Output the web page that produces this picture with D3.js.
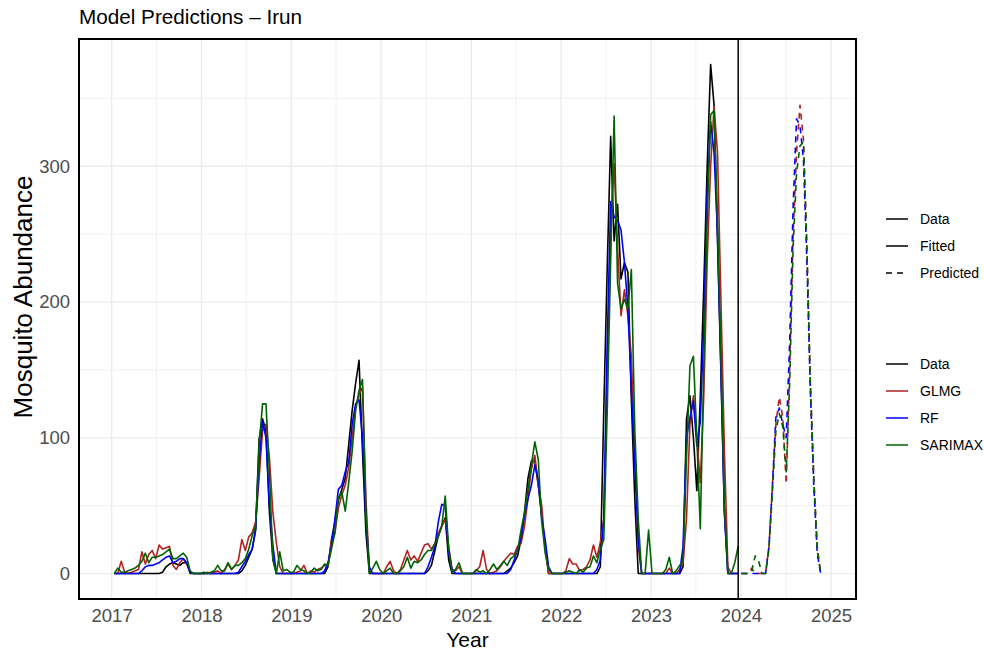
<!DOCTYPE html>
<html>
<head>
<meta charset="utf-8">
<script src="https://cdn.jsdelivr.net/npm/d3@7"></script>
<style>
  body { margin: 0; background: #fff; }
  svg { display: block; font-family: "Liberation Sans", Arial, Helvetica, sans-serif; }
  .grid line { stroke: #ebebeb; }
  .grid--major line { stroke-width: 1.3; }
  .grid--minor line { stroke-width: 0.7; }
  .axis text { fill: #4d4d4d; font-size: 18.5px; }
  .series { fill: none; stroke-width: 1.6; stroke-linejoin: round; }
  .series--pred { stroke-dasharray: 6 5; }
  .legend text { font-size: 14px; fill: #000; }
</style>
</head>
<body>
<div id="chart"></div>
<script>
// sampling: one value every 14 days
const fitStart = "2017-01-12";
const predStart = "2024-01-03";
const stepDays = 14;

const yearTicks = [2017, 2018, 2019, 2020, 2021, 2022, 2023, 2024, 2025];
const valueTicks = [0, 100, 200, 300];

const seriesNames = ["Data", "GLMG", "RF", "SARIMAX"];
const seriesColors = ["#000000", "#b22222", "#0000ff", "#006400"];
const linetypeNames = ["Data", "Fitted", "Predicted"];

// observed abundance, 26 values per year (2017 ... 2023)
const obsData = [
  0, 0, 0, 0, 0, 0, 0, 0, 0, 0, 0, 0, 0, 0, 1, 5, 7, 8, 7, 6, 8, 8, 0, 0, 0, 0,
  0, 0, 0, 0, 0, 0, 0, 0, 0, 0, 0, 2, 6, 12, 18, 32, 99, 114, 105, 45, 11, 0, 0, 0, 0, 0,
  0, 0, 0, 0, 0, 0, 0, 0, 0, 0, 5, 25, 38, 54, 62, 70, 95, 120, 140, 157, 90, 30, 0, 0, 0, 0,
  0, 0, 0, 0, 0, 0, 0, 0, 0, 0, 0, 0, 0, 2, 6, 17, 28, 35, 41, 10, 0, 0, 0, 0, 0, 0,
  0, 0, 0, 0, 0, 0, 0, 0, 0, 0, 2, 4, 8, 13, 25, 45, 70, 83, 83, 65, 43, 20, 0, 0, 0, 0,
  0, 0, 0, 0, 0, 0, 0, 0, 0, 0, 0, 5, 120, 225, 322, 245, 272, 217, 229, 222, 128, 55, 0, 0, 0, 0,
  0, 0, 0, 0, 0, 0, 0, 0, 0, 5, 114, 131, 100, 61, 130, 210, 300, 375, 345, 245, 147, 45, 0, 0, 0, 0,
];

const glmgFit = [
  0, 0, 9, 1, 0, 1, 2, 3, 16, 7, 14, 17, 11, 21, 18, 19, 20, 6, 3, 8, 11, 7, 1, 0, 0, 0,
  0, 1, 0, 1, 2, 0, 3, 7, 3, 6, 10, 25, 17, 27, 30, 38, 70, 105, 110, 85, 45, 23, 5, 0, 0, 0,
  0, 1, 2, 6, 0, 2, 1, 3, 4, 6, 6, 24, 30, 48, 58, 65, 78, 100, 122, 132, 137, 55, 2, 0, 0, 0,
  0, 5, 9, 2, 0, 3, 10, 17, 10, 13, 9, 15, 21, 22, 18, 22, 30, 35, 40, 20, 3, 2, 5, 0, 0, 0,
  0, 2, 5, 17, 3, 0, 1, 2, 5, 9, 12, 15, 14, 20, 22, 35, 55, 77, 87, 65, 50, 18, 0, 0, 0, 0,
  0, 2, 11, 7, 7, 2, 3, 5, 10, 21, 12, 23, 40, 150, 250, 302, 240, 190, 209, 190, 160, 90, 20, 0, 0, 0,
  0, 0, 0, 0, 0, 4, 0, 0, 3, 8, 40, 110, 131, 100, 67, 130, 230, 300, 344, 310, 200, 90, 5, 0, 0, 0,
];

const rfFit = [
  0, 0, 0, 0, 0, 0, 0, 0, 2, 5, 6, 6, 7, 8, 10, 12, 13, 8, 9, 11, 11, 8, 1, 0, 0, 0,
  0, 0, 0, 0, 0, 0, 0, 0, 0, 0, 1, 5, 9, 14, 18, 33, 82, 112, 100, 50, 21, 0, 0, 0, 0, 0,
  0, 0, 0, 0, 0, 0, 0, 0, 0, 2, 8, 20, 40, 62, 65, 75, 82, 110, 125, 128, 100, 40, 5, 0, 0, 0,
  0, 0, 0, 0, 0, 0, 0, 0, 0, 0, 0, 0, 0, 5, 12, 20, 38, 51, 50, 15, 3, 0, 0, 0, 0, 0,
  0, 0, 0, 0, 0, 0, 0, 0, 0, 0, 0, 3, 10, 18, 26, 43, 55, 65, 80, 69, 40, 25, 5, 0, 0, 0,
  0, 0, 0, 0, 0, 0, 0, 0, 0, 0, 3, 10, 40, 170, 274, 263, 260, 253, 229, 195, 136, 80, 25, 0, 0, 0,
  0, 0, 0, 0, 0, 0, 0, 0, 0, 20, 100, 115, 127, 94, 112, 180, 280, 333, 310, 250, 150, 45, 0, 0, 0, 0,
];

const sarimaxFit = [
  0, 4, 1, 1, 2, 3, 4, 6, 9, 15, 8, 12, 12, 13, 14, 16, 18, 11, 11, 13, 15, 12, 2, 0, 0, 0,
  1, 0, 1, 2, 6, 2, 2, 8, 3, 6, 6, 8, 11, 18, 28, 35, 94, 125, 125, 75, 10, 0, 16, 2, 3, 1,
  1, 6, 3, 2, 0, 1, 4, 2, 3, 7, 6, 18, 30, 56, 60, 46, 67, 90, 120, 135, 143, 45, 0, 4, 9, 3,
  0, 2, 4, 0, 0, 2, 5, 12, 4, 9, 8, 10, 14, 17, 17, 22, 27, 35, 57, 19, 1, 3, 8, 0, 0, 0,
  0, 3, 1, 2, 0, 3, 7, 3, 6, 9, 6, 11, 13, 17, 32, 45, 62, 80, 97, 84, 38, 15, 3, 0, 0, 0,
  0, 1, 2, 1, 0, 3, 1, 4, 5, 13, 8, 18, 25, 120, 230, 337, 214, 195, 202, 195, 224, 106, 40, 0, 0, 32,
  0, 0, 0, 0, 3, 12, 0, 2, 6, 9, 85, 153, 160, 100, 33, 150, 260, 338, 341, 260, 160, 50, 0, 0, 8, 20,
];

// 2024 forecasts
const glmgPred = [0, 0, 0, 4, 0, 0, 0, 0, 20, 65, 110, 130, 115, 66, 150, 250, 310, 345, 320, 240, 140, 70, 20, 0];
const rfPred = [0, 0, 0, 0, 0, 0, 0, 0, 20, 65, 115, 122, 110, 100, 170, 270, 335, 330, 305, 230, 135, 65, 15, 0];
const sarimaxPred = [0, 0, 0, 2, 13, 9, 0, 0, 18, 60, 105, 118, 108, 75, 140, 240, 295, 315, 318, 240, 140, 70, 18, 0];

class PredictionChart {
  constructor({ elChart }) {
    this.elChart = elChart;
    this.init();
  }

  init() {
    this.setup();
    this.scaffold();
    this.wrangle();
    this.render();
  }

  setup() {
    this.width = 984;
    this.height = 652;
    this.margin = { top: 39, right: 128, bottom: 53, left: 79 };
    this.parseDate = d3.utcParse("%Y-%m-%d");
    this.x = d3.scaleUtc().range([this.margin.left, this.width - this.margin.right]);
    this.y = d3.scaleLinear().range([this.height - this.margin.bottom, this.margin.top]);
    this.color = d3.scaleOrdinal().domain(seriesNames).range(seriesColors);
    this.line = d3
      .line()
      .x((d) => this.x(d.date))
      .y((d) => this.y(d.value));
  }

  scaffold() {
    this.svg = d3
      .select(this.elChart)
      .append("svg")
      .attr("width", this.width)
      .attr("height", this.height)
      .attr("viewBox", [0, 0, this.width, this.height]);

    this.gMinor = this.svg.append("g").attr("class", "grid grid--minor");
    this.gMajor = this.svg.append("g").attr("class", "grid grid--major");
    this.gLines = this.svg.append("g").attr("class", "lines");
    this.gFrame = this.svg.append("g").attr("class", "frame");
    this.gX = this.svg.append("g").attr("class", "axis axis--x");
    this.gY = this.svg.append("g").attr("class", "axis axis--y");
    this.gLabels = this.svg.append("g").attr("class", "labels");
    this.gLegend = this.svg.append("g").attr("class", "legend");
  }

  wrangle() {
    const toSeries = (start, values) => {
      const t0 = this.parseDate(start);
      return values.map((v, i) => ({ date: d3.utcDay.offset(t0, i * stepDays), value: v }));
    };

    this.fitted = [obsData, glmgFit, rfFit, sarimaxFit].map((values, i) => ({
      name: seriesNames[i],
      points: toSeries(fitStart, values),
    }));
    this.predicted = [glmgPred, rfPred, sarimaxPred].map((values, i) => ({
      name: seriesNames[i + 1],
      points: toSeries(predStart, values),
    }));

    const all = [...this.fitted, ...this.predicted].flatMap((d) => d.points);

    // ggplot-style 5% expansion of the continuous scales
    const [t0, t1] = d3.extent(all, (d) => d.date);
    const padT = (t1 - t0) * 0.05;
    this.x.domain([new Date(+t0 - padT), new Date(+t1 + padT)]);

    const [v0, v1] = d3.extent(all, (d) => d.value);
    const padV = (v1 - v0) * 0.05;
    this.y.domain([v0 - padV, v1 + padV]);

    this.lastFit = this.fitted[0].points[this.fitted[0].points.length - 1].date;
  }

  render() {
    this.renderGrid();
    this.renderLines();
    this.renderFrame();
    this.renderAxes();
    this.renderLabels();
    this.renderLegend();
  }

  renderGrid() {
    const [left, right] = this.x.range();
    const [bottom, top] = this.y.range();
    const yearDates = yearTicks.map((y) => new Date(Date.UTC(y, 0, 1)));
    const midYears = yearTicks.slice(0, -1).map((y) => new Date(Date.UTC(y, 6, 2)));
    const midValues = valueTicks.map((v) => v + 50);

    this.gMinor
      .selectAll(".v")
      .data(midYears)
      .join("line")
      .attr("class", "v")
      .attr("x1", (d) => this.x(d))
      .attr("x2", (d) => this.x(d))
      .attr("y1", top)
      .attr("y2", bottom);
    this.gMinor
      .selectAll(".h")
      .data(midValues)
      .join("line")
      .attr("class", "h")
      .attr("x1", left)
      .attr("x2", right)
      .attr("y1", (d) => this.y(d))
      .attr("y2", (d) => this.y(d));

    this.gMajor
      .selectAll(".v")
      .data(yearDates)
      .join("line")
      .attr("class", "v")
      .attr("x1", (d) => this.x(d))
      .attr("x2", (d) => this.x(d))
      .attr("y1", top)
      .attr("y2", bottom);
    this.gMajor
      .selectAll(".h")
      .data(valueTicks)
      .join("line")
      .attr("class", "h")
      .attr("x1", left)
      .attr("x2", right)
      .attr("y1", (d) => this.y(d))
      .attr("y2", (d) => this.y(d));
  }

  renderLines() {
    this.gLines
      .selectAll(".series--fit")
      .data(this.fitted)
      .join("path")
      .attr("class", "series series--fit")
      .attr("stroke", (d) => this.color(d.name))
      .attr("d", (d) => this.line(d.points));

    this.gLines
      .selectAll(".series--pred")
      .data(this.predicted)
      .join("path")
      .attr("class", "series series--pred")
      .attr("stroke", (d) => this.color(d.name))
      .attr("d", (d) => this.line(d.points));
  }

  renderFrame() {
    const [left, right] = this.x.range();
    const [bottom, top] = this.y.range();

    this.gFrame
      .append("line")
      .attr("x1", this.x(this.lastFit))
      .attr("x2", this.x(this.lastFit))
      .attr("y1", top)
      .attr("y2", bottom)
      .attr("stroke", "#000")
      .attr("stroke-width", 1.5);

    this.gFrame
      .append("rect")
      .attr("x", left)
      .attr("y", top)
      .attr("width", right - left)
      .attr("height", bottom - top)
      .attr("fill", "none")
      .attr("stroke", "#000")
      .attr("stroke-width", 2);
  }

  renderAxes() {
    const yearDates = yearTicks.map((y) => new Date(Date.UTC(y, 0, 1)));

    this.gX
      .attr("transform", `translate(0,${this.height - this.margin.bottom})`)
      .call(
        d3.axisBottom(this.x).tickValues(yearDates).tickFormat(d3.utcFormat("%Y")).tickSize(0).tickPadding(10),
      )
      .call((g) => g.select(".domain").remove())
      .call((g) => g.selectAll("text").attr("font-family", null).attr("font-size", null).attr("fill", null));

    this.gY
      .attr("transform", `translate(${this.margin.left},0)`)
      .call(d3.axisLeft(this.y).tickValues(valueTicks).tickSize(0).tickPadding(9))
      .call((g) => g.select(".domain").remove())
      .call((g) => g.selectAll("text").attr("font-family", null).attr("font-size", null).attr("fill", null));
  }

  renderLabels() {
    const [left, right] = this.x.range();

    this.gLabels
      .append("text")
      .attr("x", left)
      .attr("y", 24)
      .attr("font-size", 20.7)
      .text("Model Predictions – Irun");

    this.gLabels
      .append("text")
      .attr("x", (left + right) / 2)
      .attr("y", 647)
      .attr("text-anchor", "middle")
      .attr("font-size", 21)
      .text("Year");

    this.gLabels
      .append("text")
      .attr("transform", "translate(32,297) rotate(-90)")
      .attr("text-anchor", "middle")
      .attr("font-size", 26)
      .text("Mosquito Abundance");
  }

  renderLegend() {
    const rows = [
      ...linetypeNames.map((name, i) => ({
        name,
        y: 219 + i * 27,
        color: "#000",
        dash: name === "Predicted" ? "6 5" : null,
      })),
      ...seriesNames.map((name, i) => ({
        name,
        y: 364 + i * 27,
        color: this.color(name),
        dash: null,
      })),
    ];

    const row = this.gLegend
      .selectAll(".row")
      .data(rows)
      .join("g")
      .attr("class", "row")
      .attr("transform", (d) => `translate(886,${d.y})`);

    row
      .append("line")
      .attr("x1", 0)
      .attr("x2", 22)
      .attr("stroke", (d) => d.color)
      .attr("stroke-width", 1.5)
      .attr("stroke-dasharray", (d) => d.dash);

    row
      .append("text")
      .attr("x", 34)
      .attr("y", 5)
      .text((d) => d.name);
  }
}

new PredictionChart({ elChart: document.getElementById("chart") });
</script>
</body>
</html>
